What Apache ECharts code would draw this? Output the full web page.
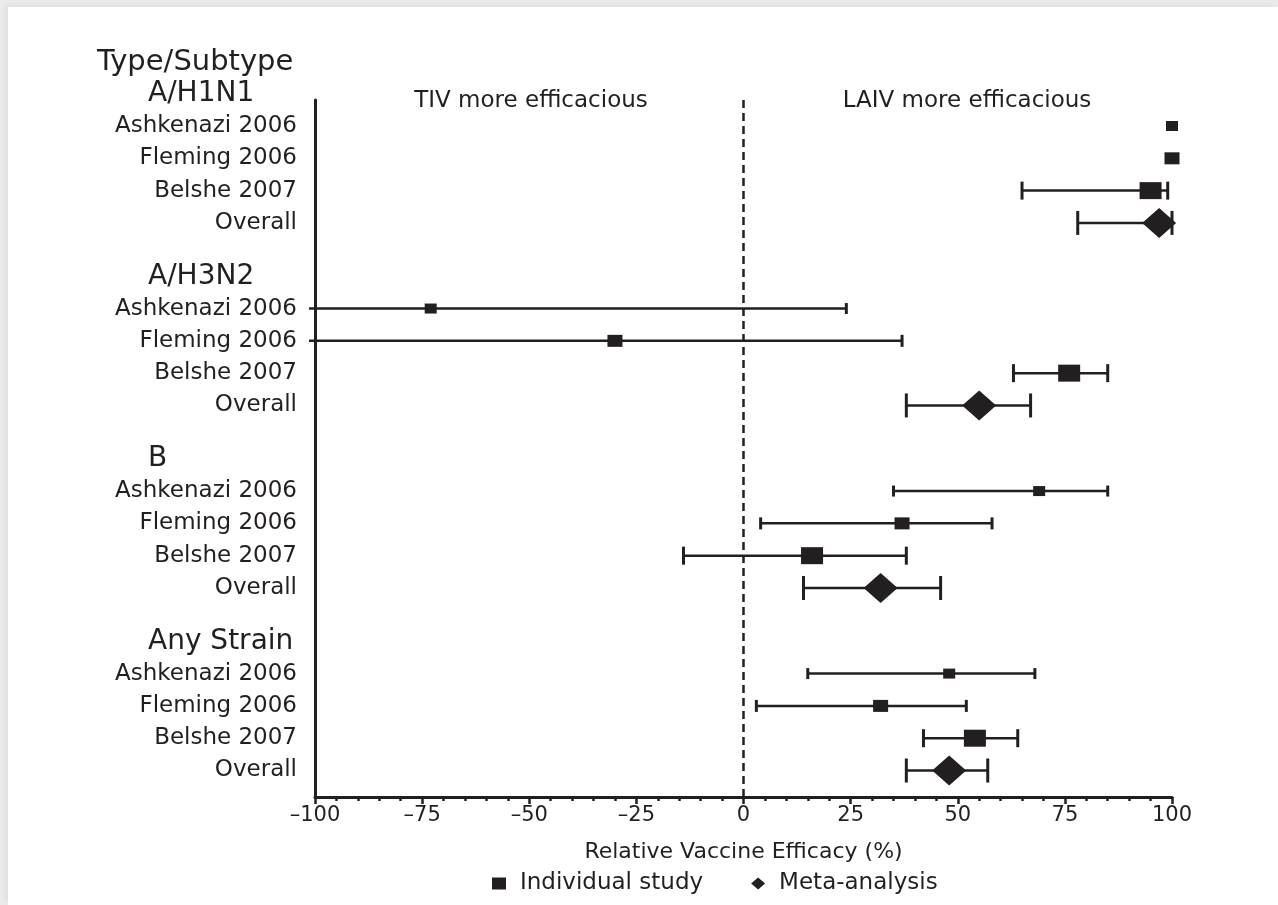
<!DOCTYPE html>
<html lang="en">
<head>
    <meta charset="UTF-8">
    <title>Relative vaccine efficacy</title>
    <script src="https://cdn.jsdelivr.net/npm/echarts@6.0.0/dist/echarts.min.js"></script>
    <style>
        html, body { margin: 0; padding: 0; background: #ececec; overflow: hidden; }
        #panel { position: absolute; left: 8px; top: 7px; right: 0; bottom: 0; background: #fff;
                 box-shadow: -3px -2px 6px rgba(0, 0, 0, 0.06); }
        #chart_div { position: absolute; left: 0; top: 0; width: 1278px; height: 905px; }
    </style>
</head>
<body>
    <div id="panel"></div>
    <div id="chart_div"></div>
</body>
    <script type="text/javascript">

       // values (relative efficacy, %)
       var groups = ['A/H1N1', 'A/H3N2', 'B', 'Any Strain'];
       var studies = ['Ashkenazi 2006', 'Fleming 2006', 'Belshe 2007', 'Overall'];

       var estH1N1 = [100, 100, 95, 97];
       var lowH1N1 = [null, null, 65, 78];
       var highH1N1 = [null, null, 99, 100];

       var estH3N2 = [-73, -30, 76, 55];
       var lowH3N2 = [-100, -100, 63, 38];
       var highH3N2 = [24, 37, 85, 67];

       var estB = [69, 37, 16, 32];
       var lowB = [35, 4, -14, 14];
       var highB = [85, 58, 38, 46];

       var estAny = [48, 32, 54, 48];
       var lowAny = [15, 3, 42, 38];
       var highAny = [68, 52, 64, 57];

       var est = [estH1N1, estH3N2, estB, estAny];
       var low = [lowH1N1, lowH3N2, lowB, lowAny];
       var high = [highH1N1, highH3N2, highB, highAny];

       // look
       var ink = '#231f20';
       var font = 'DejaVu Sans';
       var groupStep = 5.65;
       var boxSize = [[12, 10], [15, 12], [22, 17]];
       var diamondSize = [34, 30];
       var capHeight = [11, 12, 18, 24];

       function rowY(g, i) { return g * groupStep + i; }

       var labelRows = [], headerRows = [], boxes = [], diamonds = [], bars = [];
       for (var g = 0; g < groups.length; g++) {
           headerRows.push({name: groups[g], value: [-100, rowY(g, -1)]});
           for (var i = 0; i < studies.length; i++) {
               var y = rowY(g, i);
               labelRows.push({name: studies[i], value: [-100, y]});
               if (i < 3) {
                   boxes.push({value: [est[g][i], y], symbolSize: boxSize[i]});
               } else {
                   diamonds.push({value: [est[g][i], y], symbolSize: diamondSize});
               }
               if (low[g][i] !== null) {
                   bars.push([low[g][i], high[g][i], y, capHeight[i]]);
               }
           }
       }

       function renderBar(params, api) {
           var lo = api.value(0), hi = api.value(1), y = api.value(2), cap = api.value(3) / 2;
           var a = api.coord([lo, y]), b = api.coord([hi, y]);
           var cut = lo <= -100;
           var style = {stroke: ink, lineWidth: 2.5};
           var kids = [{type: 'line', shape: {x1: cut ? a[0] - 6 : a[0], y1: a[1], x2: b[0], y2: b[1]}, style: style},
                       {type: 'line', shape: {x1: b[0], y1: b[1] - cap, x2: b[0], y2: b[1] + cap}, style: {stroke: ink, lineWidth: 3}}];
           if (!cut) {
               kids.push({type: 'line', shape: {x1: a[0], y1: a[1] - cap, x2: a[0], y2: a[1] + cap}, style: {stroke: ink, lineWidth: 3}});
           }
           return {type: 'group', children: kids};
       }

       var chart = echarts.init(document.getElementById("chart_div"));
       var options = {
            animation: false,
            textStyle: {fontFamily: font, color: ink},
            grid: {left: 315, right: 106, top: 100, bottom: 108},
            graphic: [
                {type: 'text', x: 97, y: 62, style: {text: 'Type/Subtype', font: '29px "DejaVu Sans"', fill: ink, verticalAlign: 'middle'}},
                {type: 'text', x: 531, y: 101, style: {text: 'TIV more efficacious', font: '23px "DejaVu Sans"', fill: ink, align: 'center', verticalAlign: 'middle'}},
                {type: 'text', x: 967, y: 101, style: {text: 'LAIV more efficacious', font: '23px "DejaVu Sans"', fill: ink, align: 'center', verticalAlign: 'middle'}}
            ],
            legend: {
                left: 487,
                top: 867,
                itemWidth: 14,
                itemHeight: 12,
                itemGap: 48,
                textStyle: {fontFamily: font, fontSize: 23, color: ink, padding: [0, 0, 0, 9]},
                data: [{name: 'Individual study', icon: 'rect'}, {name: 'Meta-analysis', icon: 'diamond'}]
            },
            xAxis: {
                type: 'value',
                min: -100,
                max: 100,
                interval: 25,
                name: 'Relative Vaccine Efficacy (%)',
                nameLocation: 'middle',
                nameGap: 44,
                nameTextStyle: {fontFamily: font, fontSize: 22, color: ink},
                axisLine: {onZero: false, lineStyle: {color: ink, width: 3}},
                axisTick: {length: 7, lineStyle: {color: ink, width: 2.5}},
                minorTick: {show: true, splitNumber: 5, length: 4, lineStyle: {color: ink, width: 2.5}},
                splitLine: {show: false},
                axisLabel: {
                    fontFamily: font, fontSize: 21, color: ink, margin: 8,
                    formatter: function (v) { return v < 0 ? '\u2013' + (-v) : String(v); }
                }
            },
            yAxis: {
                type: 'value',
                inverse: true,
                min: -0.805,
                max: 20.77,
                axisLine: {show: true, onZero: false, lineStyle: {color: ink, width: 3}},
                axisTick: {show: false},
                axisLabel: {show: false},
                splitLine: {show: false}
            },
            series: [
                {
                    name: 'ci',
                    type: 'custom',
                    renderItem: renderBar,
                    data: bars,
                    silent: true,
                    z: 2,
                    markLine: {
                        silent: true,
                        symbol: 'none',
                        label: {show: false},
                        lineStyle: {color: ink, width: 2.5, type: [8, 5]},
                        data: [{xAxis: 0}]
                    }
                },
                {
                    name: 'Individual study',
                    type: 'scatter',
                    symbol: 'rect',
                    itemStyle: {color: ink, opacity: 1},
                    data: boxes,
                    silent: true,
                    z: 3
                },
                {
                    name: 'Meta-analysis',
                    type: 'scatter',
                    symbol: 'diamond',
                    itemStyle: {color: ink, opacity: 1},
                    data: diamonds,
                    silent: true,
                    z: 3
                },
                {
                    name: 'rows',
                    type: 'scatter',
                    symbolSize: 0,
                    silent: true,
                    clip: false,
                    itemStyle: {opacity: 1},
                    data: labelRows,
                    label: {show: true, position: 'left', distance: 18, formatter: '{b}',
                            fontFamily: font, fontSize: 23, color: ink}
                },
                {
                    name: 'groups',
                    type: 'scatter',
                    symbolSize: 0,
                    silent: true,
                    clip: false,
                    itemStyle: {opacity: 1},
                    data: headerRows,
                    label: {show: true, position: 'inside', align: 'left', offset: [-167, 0], formatter: '{b}',
                            fontFamily: font, fontSize: 28, color: ink}
                }
            ]
       };

       chart.setOption(options);

    </script>
</html>
